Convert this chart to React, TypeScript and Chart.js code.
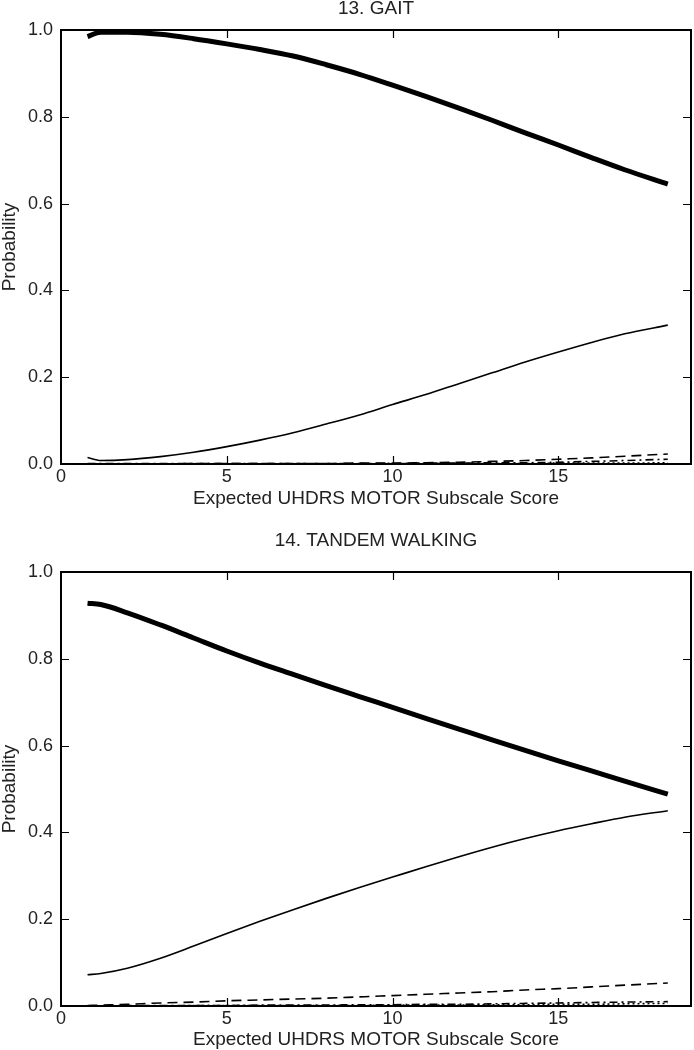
import React, { useEffect, useRef } from 'react';
import { Chart, registerables } from 'chart.js';

Chart.register(...registerables);

// ---------- data ----------
const xScores = [0.8, 1.2, 2, 3, 4, 5, 6, 7, 8, 9, 10, 11, 12, 13, 14, 15, 16, 17, 18.3];

const gaitCat0 = [0.985, 0.995, 0.995, 0.99, 0.98, 0.968, 0.955, 0.94, 0.92, 0.898, 0.873, 0.847, 0.82, 0.792, 0.763, 0.735, 0.706, 0.678, 0.645];
const gaitCat1 = [0.015, 0.008, 0.01, 0.017, 0.027, 0.04, 0.055, 0.072, 0.092, 0.113, 0.137, 0.16, 0.185, 0.21, 0.235, 0.258, 0.28, 0.3, 0.32];
const gaitCat2 = [0.0, 0.0, 0.0, 0.0, 0.001, 0.001, 0.001, 0.001, 0.001, 0.002, 0.002, 0.003, 0.004, 0.006, 0.008, 0.011, 0.014, 0.018, 0.023];
const gaitCat3 = [0.001, 0.001, 0.001, 0.001, 0.001, 0.001, 0.001, 0.001, 0.001, 0.001, 0.001, 0.002, 0.002, 0.003, 0.003, 0.004, 0.006, 0.008, 0.011];
const gaitCat4 = [0.0, 0.0, 0.0, 0.0, 0.0, 0.0, 0.0, 0.0, 0.0, 0.0, 0.001, 0.001, 0.001, 0.001, 0.001, 0.002, 0.002, 0.002, 0.003];

const tandemCat0 = [0.928, 0.925, 0.906, 0.878, 0.848, 0.818, 0.79, 0.764, 0.738, 0.713, 0.688, 0.663, 0.638, 0.613, 0.589, 0.565, 0.542, 0.518, 0.488];
const tandemCat1 = [0.072, 0.075, 0.087, 0.11, 0.138, 0.167, 0.195, 0.222, 0.248, 0.273, 0.297, 0.321, 0.344, 0.366, 0.386, 0.404, 0.42, 0.435, 0.45];
const tandemCat2 = [0.001, 0.002, 0.004, 0.007, 0.009, 0.012, 0.014, 0.016, 0.018, 0.021, 0.024, 0.027, 0.03, 0.033, 0.037, 0.04, 0.044, 0.048, 0.053];
const tandemCat3 = [0.0, 0.0, 0.001, 0.001, 0.001, 0.001, 0.002, 0.002, 0.002, 0.003, 0.003, 0.004, 0.004, 0.005, 0.006, 0.007, 0.008, 0.009, 0.01];
const tandemCat4 = [0.0, 0.0, 0.0, 0.0, 0.001, 0.001, 0.001, 0.001, 0.001, 0.001, 0.002, 0.002, 0.002, 0.003, 0.003, 0.004, 0.004, 0.005, 0.006];

const xTicks = [0, 5, 10, 15];
const yTicks = [0, 0.2, 0.4, 0.6, 0.8, 1.0];
const xMin = 0;
const xMax = 19;
const yMin = 0;
const yMax = 1;

const titleGait = '13. GAIT';
const titleTandem = '14. TANDEM WALKING';
const xAxisLabel = 'Expected UHDRS MOTOR Subscale Score';
const yAxisLabel = 'Probability';

// ---------- styles ----------
const FONT = '"Liberation Sans", Arial, Helvetica, sans-serif';
const TEXT = '#222';
const W = 694;
const H = 525;
const TICK_SIZE = 18;
const LABEL_SIZE = 19;

const lineStyles = [
  { borderWidth: 5, borderDash: [] as number[] },
  { borderWidth: 1.6, borderDash: [] as number[] },
  { borderWidth: 1.6, borderDash: [10, 6] },
  { borderWidth: 1.6, borderDash: [8, 4, 2, 4] },
  { borderWidth: 1.6, borderDash: [2, 3] },
];

type PanelProps = {
  title: string;
  series: number[][];
  top: number;
  plotTop: number;
  plotBottom: number;
  titleCenter: number;
  xTitleCenter: number;
};

function Panel({ title, series, top, plotTop, plotBottom, titleCenter, xTitleCenter }: PanelProps) {
  const ref = useRef<HTMLCanvasElement | null>(null);

  useEffect(() => {
    if (!ref.current) return;
    const tickLen = 8;

    const framePlugin = {
      id: 'frameAndTitle',
      afterDatasetsDraw(chart: any) {
        const { ctx, chartArea } = chart;
        const { left, right, top: t, bottom } = chartArea;
        ctx.save();
        ctx.strokeStyle = '#000';
        ctx.lineWidth = 2;
        ctx.setLineDash([]);
        ctx.strokeRect(left, t, right - left, bottom - t);
        ctx.lineWidth = 1.2;
        const xs = chart.scales.x;
        const ys = chart.scales.y;
        ctx.beginPath();
        xTicks.forEach((v) => {
          if (v <= xMin || v >= xMax) return;
          const px = Math.round(xs.getPixelForValue(v)) + 0.5;
          ctx.moveTo(px, bottom);
          ctx.lineTo(px, bottom - tickLen);
          ctx.moveTo(px, t);
          ctx.lineTo(px, t + tickLen);
        });
        yTicks.forEach((v) => {
          if (v <= yMin || v >= yMax) return;
          const py = Math.round(ys.getPixelForValue(v)) + 0.5;
          ctx.moveTo(left, py);
          ctx.lineTo(left + tickLen, py);
          ctx.moveTo(right, py);
          ctx.lineTo(right - tickLen, py);
        });
        ctx.stroke();
        // panel title, centred over the plot area
        ctx.fillStyle = TEXT;
        ctx.font = `${LABEL_SIZE}px ${FONT}`;
        ctx.textAlign = 'center';
        ctx.textBaseline = 'middle';
        ctx.fillText(title, (left + right) / 2, titleCenter);
        ctx.restore();
      },
    };

    const chart = new Chart(ref.current, {
      type: 'line',
      data: {
        datasets: series.map((s, i) => ({
          label: `cat${i}`,
          data: s.map((y, j) => ({ x: xScores[j], y })),
          borderColor: '#000',
          backgroundColor: '#000',
          borderWidth: lineStyles[i].borderWidth,
          borderDash: lineStyles[i].borderDash,
          borderCapStyle: 'butt',
          borderJoinStyle: 'round',
          pointRadius: 0,
          fill: false,
          cubicInterpolationMode: 'monotone',
        })),
      },
      options: {
        responsive: false,
        animation: false,
        devicePixelRatio: 1,
        layout: { padding: { left: 0, right: 3, top: plotTop, bottom: 0 } },
        plugins: {
          legend: { display: false },
          tooltip: { enabled: false },
          title: { display: false },
        },
        scales: {
          x: {
            type: 'linear',
            min: xMin,
            max: xMax,
            grid: { display: false, drawTicks: false },
            border: { display: false },
            ticks: {
              color: TEXT,
              padding: 2,
              font: { family: FONT, size: TICK_SIZE, lineHeight: 1.2 },
              callback: (v: any) => String(v),
            },
            afterBuildTicks: (s: any) => {
              s.ticks = xTicks.map((v) => ({ value: v }));
            },
            afterFit: (s: any) => {
              s.height = H - plotBottom;
            },
            title: {
              display: true,
              text: xAxisLabel,
              color: TEXT,
              font: { family: FONT, size: LABEL_SIZE, lineHeight: 1 },
              padding: { top: 0, bottom: H - xTitleCenter - LABEL_SIZE / 2 },
            },
          },
          y: {
            type: 'linear',
            min: yMin,
            max: yMax,
            grid: { display: false, drawTicks: false },
            border: { display: false },
            ticks: {
              color: TEXT,
              padding: 8,
              font: { family: FONT, size: TICK_SIZE, lineHeight: 1.2 },
              callback: (v: any) => Number(v).toFixed(1),
            },
            afterBuildTicks: (s: any) => {
              s.ticks = yTicks.map((v) => ({ value: v }));
            },
            afterFit: (s: any) => {
              s.width = 61;
            },
            title: {
              display: true,
              text: yAxisLabel,
              color: TEXT,
              font: { family: FONT, size: LABEL_SIZE, lineHeight: 1 },
              padding: { top: 0, bottom: 0 },
            },
          },
        },
      },
      plugins: [framePlugin],
    } as any);

    return () => chart.destroy();
  }, [title, series, plotTop, plotBottom, titleCenter, xTitleCenter]);

  return (
    <canvas
      ref={ref}
      width={W}
      height={H}
      style={{ position: 'absolute', left: 0, top, width: W, height: H, display: 'block' }}
    />
  );
}

const gaitSeries = [gaitCat0, gaitCat1, gaitCat2, gaitCat3, gaitCat4];
const tandemSeries = [tandemCat0, tandemCat1, tandemCat2, tandemCat3, tandemCat4];

export default function App() {
  return (
    <div style={{ position: 'absolute', left: 0, top: 0, width: W, height: 1050, background: '#fff' }}>
      <Panel title={titleGait} series={gaitSeries} top={0} plotTop={30} plotBottom={464} titleCenter={9} xTitleCenter={499} />
      <Panel title={titleTandem} series={tandemSeries} top={525} plotTop={47} plotBottom={481} titleCenter={16} xTitleCenter={515} />
    </div>
  );
}
